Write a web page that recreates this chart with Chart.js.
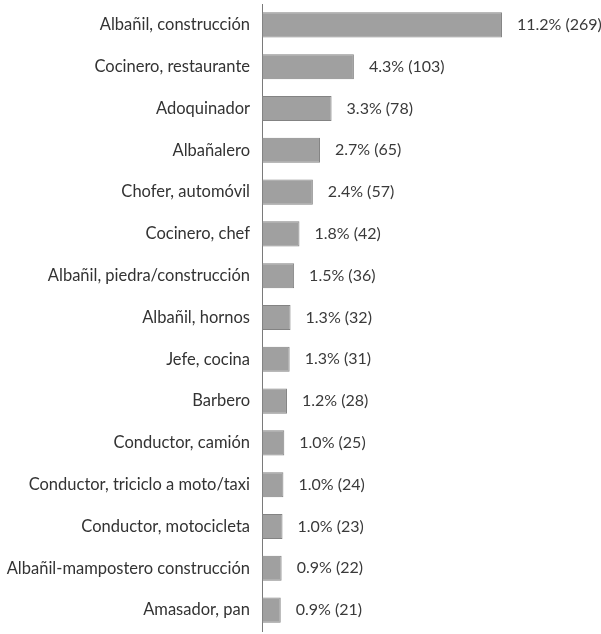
<!DOCTYPE html>
<html>
<head>
<meta charset="utf-8">
<script src="https://cdn.jsdelivr.net/npm/chart.js@4"></script>
<style>
  html, body { margin: 0; padding: 0; background: #fff; }
  #wrap { width: 601px; height: 634px; }
</style>
</head>
<body>
<div id="wrap"><canvas id="chart" width="601" height="634"></canvas></div>
<script>
// ocupaciones
const categories = [
    'Albañil, construcción',
    'Cocinero, restaurante',
    'Adoquinador',
    'Albañalero',
    'Chofer, automóvil',
    'Cocinero, chef',
    'Albañil, piedra/construcción',
    'Albañil, hornos',
    'Jefe, cocina',
    'Barbero',
    'Conductor, camión',
    'Conductor, triciclo a moto/taxi',
    'Conductor, motocicleta',
    'Albañil-mampostero construcción',
    'Amasador, pan'
];
const counts = [269, 103, 78, 65, 57, 42, 36, 32, 31, 28, 25, 24, 23, 22, 21];
const percents = ['11.2%', '4.3%', '3.3%', '2.7%', '2.4%', '1.8%', '1.5%', '1.3%', '1.3%', '1.2%', '1.0%', '1.0%', '1.0%', '0.9%', '0.9%'];

const FONT = 'Lato, "Open Sans", sans-serif';

// etiquetas al final de cada barra
const valueLabels = {
    id: 'valueLabels',
    afterDatasetsDraw(chart) {
        const ctx = chart.ctx;
        const meta = chart.getDatasetMeta(0);
        ctx.save();
        ctx.font = '16px ' + FONT;
        ctx.fillStyle = '#3a3a3a';
        ctx.textAlign = 'left';
        ctx.textBaseline = 'middle';
        meta.data.forEach((bar, i) => {
            ctx.fillText(percents[i] + ' (' + counts[i] + ')', bar.x + 15, bar.y);
        });
        ctx.restore();
    }
};

new Chart(document.getElementById('chart').getContext('2d'), {
    type: 'bar',
    data: {
        labels: categories,
        datasets: [{
            data: counts,
            backgroundColor: '#a0a0a0',
            borderColor: '#838383',
            borderWidth: 1,
            borderSkipped: false,
            categoryPercentage: 1,
            barPercentage: 0.6
        }]
    },
    options: {
        indexAxis: 'y',
        responsive: false,
        animation: false,
        layout: { padding: { top: 4, bottom: 3, left: 0, right: 0 } },
        plugins: {
            legend: { display: false },
            tooltip: { enabled: false }
        },
        scales: {
            x: {
                display: false,
                min: 0,
                max: 380
            },
            y: {
                afterFit(scale) {
                    scale.width = 262;
                    scale.paddingTop = 0;
                    scale.paddingBottom = 0;
                },
                grid: { display: false, drawTicks: false },
                border: { display: true, color: '#7a7a7a', width: 1 },
                ticks: {
                    padding: 12,
                    color: '#333',
                    font: { family: FONT, size: 16.5 }
                }
            }
        }
    },
    plugins: [valueLabels]
});
</script>
</body>
</html>
